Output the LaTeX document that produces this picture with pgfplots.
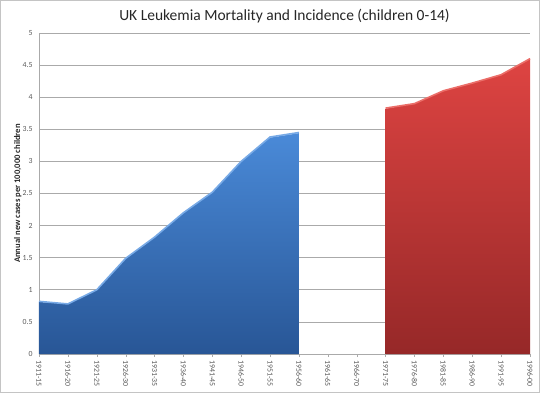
\documentclass[border=0pt]{standalone}
\usepackage{pgfplots}
\pgfplotsset{compat=1.18}
\usepackage{fontspec}
\setmainfont{Carlito}
\definecolor{gridgray}{RGB}{170,170,170}
\definecolor{txtgray}{RGB}{90,90,90}
\definecolor{bluetop}{RGB}{74,138,216}
\definecolor{bluebot}{RGB}{40,86,150}
\definecolor{blueline}{RGB}{120,170,230}
\definecolor{redtop}{RGB}{222,68,66}
\definecolor{redbot}{RGB}{150,40,40}
\definecolor{redline}{RGB}{235,110,105}
\begin{document}
\begin{tikzpicture}[x=1pt,y=1pt]
\begin{axis}[
  at={(0,0)}, anchor=south west,
  scale only axis, width=491pt, height=321pt,
  xmin=0, xmax=17, ymin=0, ymax=5,
  xtick={0,...,17},
  xticklabels={1911-15,1916-20,1921-25,1926-30,1931-35,1936-40,1941-45,1946-50,1951-55,1956-60,1961-65,1966-70,1971-75,1976-80,1981-85,1986-90,1991-95,1996-00},
  xticklabel style={rotate=-90, anchor=west, font=\fontsize{7.8}{8}\selectfont, text=txtgray},
  ytick={0,0.5,...,5},
  yticklabel style={font=\fontsize{7.8}{8}\selectfont, text=txtgray},
  /pgf/number format/assume math mode=true,
  ymajorgrids, grid style={gridgray, line width=0.6pt},
  axis x line*=bottom, axis y line*=left,
  x axis line style={-, gridgray, line width=0.8pt},
  y axis line style={-, gridgray, line width=0.8pt},
  xtick style={gridgray}, tick align=outside, major tick length=3pt,
  ytick style={draw=none},
  ylabel={\bfseries Annual new cases per 100,000 children},
  ylabel style={font=\fontsize{8.6}{9}\selectfont, text=black!85, at={(axis description cs:0,0.5)}, yshift=14pt},
  title={UK Leukemia Mortality and Incidence (children 0-14)},
  title style={font=\fontsize{15.5}{17}\selectfont, text=black!85, yshift=0pt},
  clip=false,
]
\addplot[draw=none, top color=bluetop, bottom color=bluebot, shading=axis] coordinates {
(0,0.81) (1,0.78) (2,1.0) (3,1.49) (4,1.82) (5,2.2) (6,2.52) (7,3.0) (8,3.37) (9,3.44)} \closedcycle;
\addplot[blueline, line width=1.6pt] coordinates {
(0,0.82) (1,0.78) (2,1.0) (3,1.49) (4,1.82) (5,2.2) (6,2.52) (7,3.0) (8,3.38) (9,3.45)};
\addplot[draw=none, top color=redtop, bottom color=redbot, shading=axis] coordinates {
(12,3.82) (13,3.9) (14,4.1) (15,4.22) (16,4.35) (17,4.6)} \closedcycle;
\addplot[redline, line width=1.6pt] coordinates {
(12,3.83) (13,3.9) (14,4.1) (15,4.22) (16,4.35) (17,4.6)};
\end{axis}
\draw[gridgray!70, line width=0.8pt] (-38.6,-38.6) rectangle (500.6,353.6);
\path[use as bounding box] (-39,-39) rectangle (501,354);
\end{tikzpicture}
\end{document}
